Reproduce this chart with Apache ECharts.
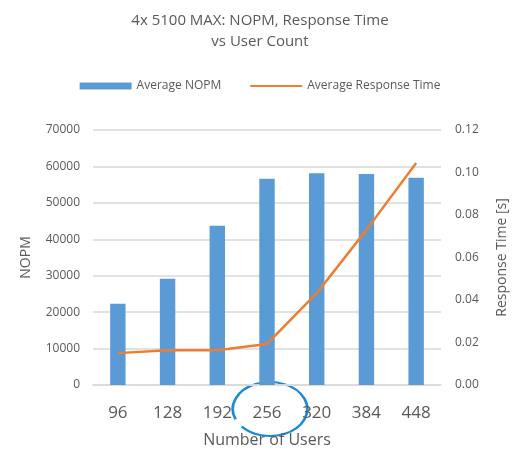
<!DOCTYPE html>
<html>
<head>
<meta charset="utf-8">
<script src="https://cdn.jsdelivr.net/npm/echarts@6/dist/echarts.min.js"></script>
<style>
  html, body { margin: 0; padding: 0; background: #fff; }
  #chart { width: 520px; height: 454px; }
</style>
</head>
<body>
<div id="chart"></div>
<script>
// data
const users = ['96', '128', '192', '256', '320', '384', '448']
const avgNopm = [22300, 29200, 43700, 56600, 58100, 57900, 56900]
const avgResponse = [0.015, 0.0163, 0.0163, 0.0193, 0.0432, 0.073, 0.1045]

const textColor = '#595959'
const font = 'Open Sans'

const chart = echarts.init(document.getElementById('chart'))
const option = {
  backgroundColor: '#fff',
  textStyle: { fontFamily: font },
  title: {
    text: '4x 5100 MAX: NOPM, Response Time\nvs User Count',
    left: 'center',
    top: 5,
    textStyle: { fontFamily: font, fontSize: 15, fontWeight: 'normal', color: textColor, lineHeight: 21 }
  },
  legend: {
    top: 75,
    left: 'center',
    itemGap: 28,
    itemWidth: 52,
    itemHeight: 7,
    textStyle: { fontFamily: font, fontSize: 12, color: textColor },
    data: [
      { name: 'Average NOPM', icon: 'rect' },
      { name: 'Average Response Time', itemStyle: { opacity: 0 } }
    ]
  },
  grid: { left: 93, right: 79, top: 130, bottom: 69 },
  xAxis: {
    type: 'category',
    data: users,
    name: 'Number of Users',
    nameLocation: 'middle',
    nameGap: 47,
    nameTextStyle: { fontFamily: font, fontSize: 16, color: textColor },
    axisTick: { show: false },
    axisLine: { lineStyle: { color: '#d9d9d9', width: 1.5 } },
    axisLabel: { fontFamily: font, fontSize: 17, color: textColor, margin: 20 }
  },
  yAxis: [
    {
      type: 'value',
      min: 0,
      max: 70000,
      interval: 10000,
      name: 'NOPM',
      nameLocation: 'middle',
      nameGap: 60,
      nameTextStyle: { fontFamily: font, fontSize: 14, color: textColor },
      axisLabel: {
        fontFamily: font, fontSize: 12, color: textColor, margin: 13,
        formatter: v => String(v)
      },
      splitLine: { lineStyle: { color: '#d9d9d9', width: 1.5 } }
    },
    {
      type: 'value',
      min: 0,
      max: 0.12,
      interval: 0.02,
      name: 'Response Time [s]',
      nameLocation: 'middle',
      nameGap: 54,
      nameRotate: 90,
      nameTextStyle: { fontFamily: font, fontSize: 14, color: textColor },
      axisLabel: {
        fontFamily: font, fontSize: 12, color: textColor, margin: 14,
        formatter: v => v.toFixed(2)
      },
      splitLine: { show: false }
    }
  ],
  series: [
    {
      name: 'Average NOPM',
      type: 'bar',
      data: avgNopm,
      barWidth: '31%',
      itemStyle: { color: '#5b9bd5' }
    },
    {
      name: 'Average Response Time',
      type: 'line',
      yAxisIndex: 1,
      data: avgResponse,
      symbol: 'none',
      lineStyle: { color: '#ed7d31', width: 2.5 },
      itemStyle: { color: '#ed7d31' }
    }
  ],
  graphic: [
    {
      // hand-drawn circle around 256
      type: 'arc',
      x: 270,
      y: 409,
      scaleX: 1.38,
      shape: { cx: 0, cy: 0, r: 27, startAngle: 2.75, endAngle: 2.75 + Math.PI * 1.9 },
      style: { stroke: '#1a8ad4', lineWidth: 2, fill: 'none', strokeNoScale: true },
      silent: true
    }
  ]
}
chart.setOption(option)
</script>
</body>
</html>
